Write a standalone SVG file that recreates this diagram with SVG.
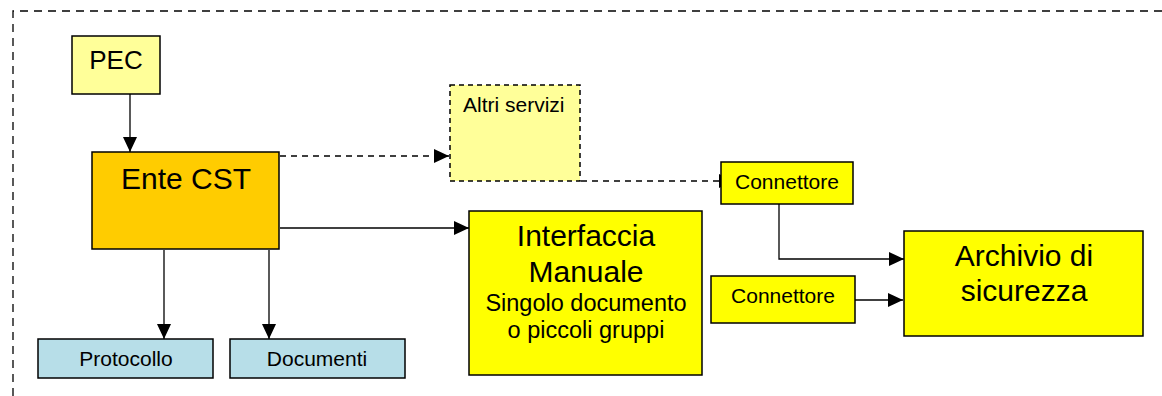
<svg xmlns="http://www.w3.org/2000/svg" width="1162" height="396" viewBox="0 0 1162 396">
<style>
text{font-family:"Liberation Sans",Arial,sans-serif;fill:#000}
.box{stroke:#000;stroke-width:1.5}
.c{text-anchor:middle}
.ln{fill:none;stroke:#000;stroke-width:1.3}
.dash{stroke-dasharray:6,5}
</style>
<defs>
<marker id="ah" viewBox="0 0 15 14" refX="15" refY="7" markerWidth="15" markerHeight="14" markerUnits="userSpaceOnUse" orient="auto">
<path d="M0,0 L15,7 L0,14 z" fill="#000"/>
</marker>
</defs>
<rect width="1162" height="396" fill="#fff"/>
<path d="M13,396 L13,11 L1162,11" fill="none" stroke="#000" stroke-width="1.3" stroke-dasharray="8,6"/>
<g id="connectors">
<line class="ln" x1="130" y1="94" x2="130" y2="152" marker-end="url(#ah)"/>
<line class="ln dash" x1="280" y1="156" x2="449" y2="156" marker-end="url(#ah)"/>
<line class="ln" x1="280" y1="228" x2="469" y2="228" marker-end="url(#ah)"/>
<line class="ln" x1="164" y1="250" x2="164" y2="339" marker-end="url(#ah)"/>
<line class="ln" x1="269" y1="250" x2="269" y2="339" marker-end="url(#ah)"/>
<line class="ln dash" x1="581" y1="181" x2="734" y2="181" marker-end="url(#ah)"/>
<path class="ln" d="M779,204 L779,259 L904,259" marker-end="url(#ah)"/>
<line class="ln" x1="855" y1="300" x2="903" y2="300" marker-end="url(#ah)"/>
</g>
<g id="pec">
<rect class="box" x="72" y="36" width="88" height="58" fill="#FFFF99"/>
<text class="c" x="116" y="69" font-size="26">PEC</text>
</g>
<g id="ente">
<rect class="box" x="92" y="152" width="187" height="97" fill="#FFCC00"/>
<text class="c" x="186" y="189" font-size="30">Ente CST</text>
</g>
<g id="protocollo">
<rect class="box" x="38" y="339" width="175" height="39" fill="#B7DEE8"/>
<text class="c" x="126" y="366" font-size="21">Protocollo</text>
</g>
<g id="documenti">
<rect class="box" x="230" y="339" width="175" height="39" fill="#B7DEE8"/>
<text class="c" x="317" y="366" font-size="21">Documenti</text>
</g>
<g id="altri">
<rect class="box" x="450" y="85" width="130" height="96" fill="#FFFF99" stroke-dasharray="5,4"/>
<text x="463" y="112" font-size="21">Altri servizi</text>
</g>
<g id="interfaccia">
<rect class="box" x="469" y="211" width="233" height="164" fill="#FFFF00"/>
<text class="c" x="586" y="246" font-size="30">Interfaccia</text>
<text class="c" x="586" y="282" font-size="30">Manuale</text>
<text class="c" x="586" y="311" font-size="23.5">Singolo documento</text>
<text class="c" x="586" y="338" font-size="23.5">o piccoli gruppi</text>
</g>
<g id="connettore1">
<rect class="box" x="721" y="162" width="132" height="42" fill="#FFFF00"/>
<text x="735" y="189" font-size="21">Connettore</text>
</g>
<g id="connettore2">
<rect class="box" x="711" y="276" width="144" height="47" fill="#FFFF00"/>
<text class="c" x="783" y="303" font-size="21">Connettore</text>
</g>
<g id="archivio">
<rect class="box" x="904" y="231" width="239" height="105" fill="#FFFF00"/>
<text class="c" x="1024" y="266" font-size="30">Archivio di</text>
<text class="c" x="1024" y="301" font-size="30">sicurezza</text>
</g>
</svg>
